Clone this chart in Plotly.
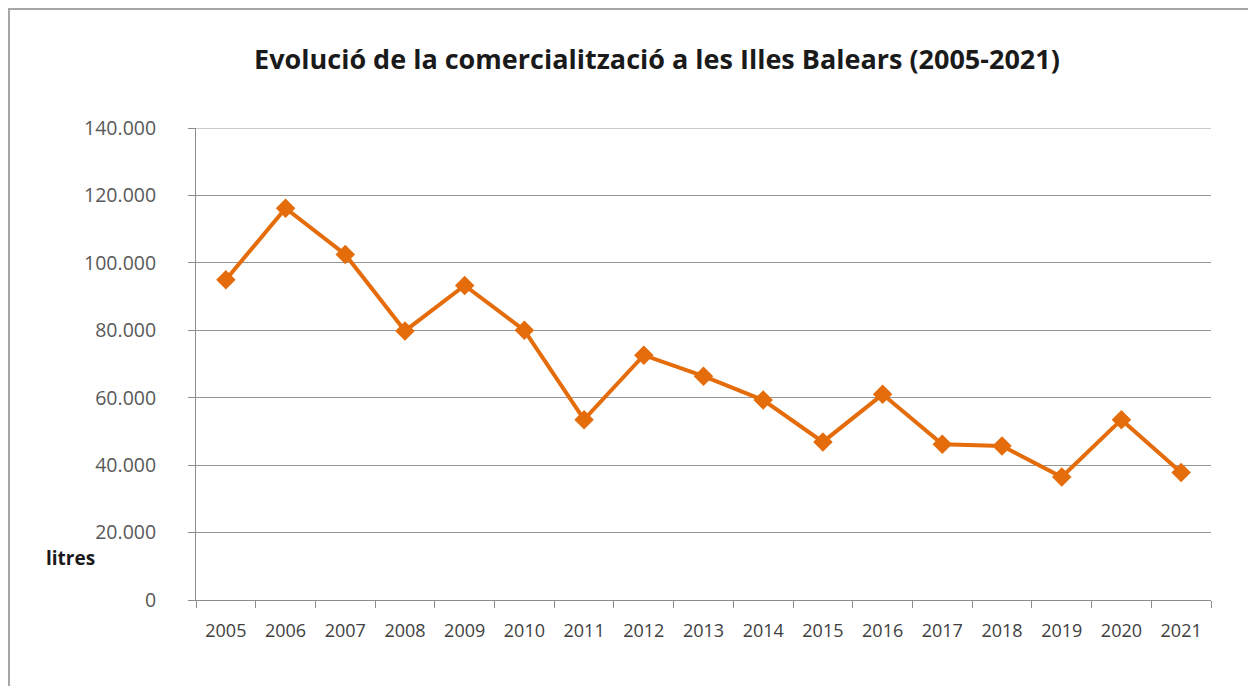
import plotly.graph_objects as go

years = [str(y) for y in range(2005, 2022)]
litres = [95000, 116200, 102500, 79800, 93300, 80000, 53500, 72600, 66400,
          59300, 46900, 61000, 46200, 45700, 36500, 53500, 37800]
y_ticks = [0, 20000, 40000, 60000, 80000, 100000, 120000, 140000]
y_tick_labels = ["0", "20.000", "40.000", "60.000", "80.000", "100.000", "120.000", "140.000"]

# page body adds an 8px offset; figure coordinates compensate for it
OFF = 8
W, H = 1256, 686
L, R, T, B = 196 - OFF, 1256 - 1211 + OFF, 128 - OFF, 686 - 600 + OFF
pw, ph = W - L - R, H - T - B

def px(x):
    return (x - OFF - L) / pw

def py(y):
    return (H - B - (y - OFF)) / ph

orange = "#E46C0A"
axis_grey = "#8c8c8c"

fig = go.Figure()
fig.add_trace(go.Scatter(
    x=years, y=litres, mode="lines+markers",
    line=dict(color=orange, width=4),
    marker=dict(symbol="diamond", size=15, color=orange),
    showlegend=False,
))

fig.update_layout(
    width=W, height=H,
    margin=dict(l=L, r=R, t=T, b=B),
    paper_bgcolor="white", plot_bgcolor="white",
    title=dict(text="<b>Evolució de la comercialització a les Illes Balears (2005-2021)</b>",
               x=px(657), xref="paper", xanchor="center", y=1 - (60 - OFF) / H, yanchor="middle",
               font=dict(family="Open Sans", size=27, color="#1a1a1a")),
    font=dict(family="Open Sans", size=14, color="#595959"),
    xaxis=dict(type="category", range=[-0.5, len(years) - 0.5],
               showgrid=False, showline=True, linecolor=axis_grey,
               linewidth=1, ticks="outside", tickson="boundaries", ticklen=7,
               tickcolor=axis_grey, tickfont=dict(size=18, color="#404040"),
               ticklabelstandoff=14, fixedrange=True),
    yaxis=dict(range=[0, 140000], tickvals=y_ticks, ticktext=y_tick_labels,
               showgrid=True, gridcolor="#969696", gridwidth=1,
               showline=True, linecolor=axis_grey, linewidth=1,
               ticks="outside", ticklen=7, tickcolor=axis_grey,
               tickfont=dict(size=19.5, color="#595959"), zeroline=False,
               ticklabelstandoff=28, fixedrange=True),
)

# top gridline at the range edge
fig.add_shape(type="line", xref="paper", yref="y", x0=0, x1=1, y0=140000, y1=140000,
              line=dict(color="#969696", width=1))

fig.add_annotation(text="<b>litres</b>", xref="paper", yref="paper",
                   x=px(44), y=py(558), xanchor="left", yanchor="middle",
                   showarrow=False, font=dict(family="Open Sans", size=19, color="#1a1a1a"))

# outer chart border
fig.add_shape(type="line", xref="paper", yref="paper",
              x0=px(9), x1=px(9), y0=py(8), y1=py(700),
              line=dict(color="#a6a6a6", width=2))
fig.add_shape(type="line", xref="paper", yref="paper",
              x0=px(8), x1=px(1251), y0=py(9), y1=py(9),
              line=dict(color="#a6a6a6", width=2))
fig.add_shape(type="line", xref="paper", yref="paper",
              x0=px(1251), x1=px(1251), y0=py(8), y1=py(700),
              line=dict(color="#e0e0e0", width=1))

fig.write_html("out.html")
